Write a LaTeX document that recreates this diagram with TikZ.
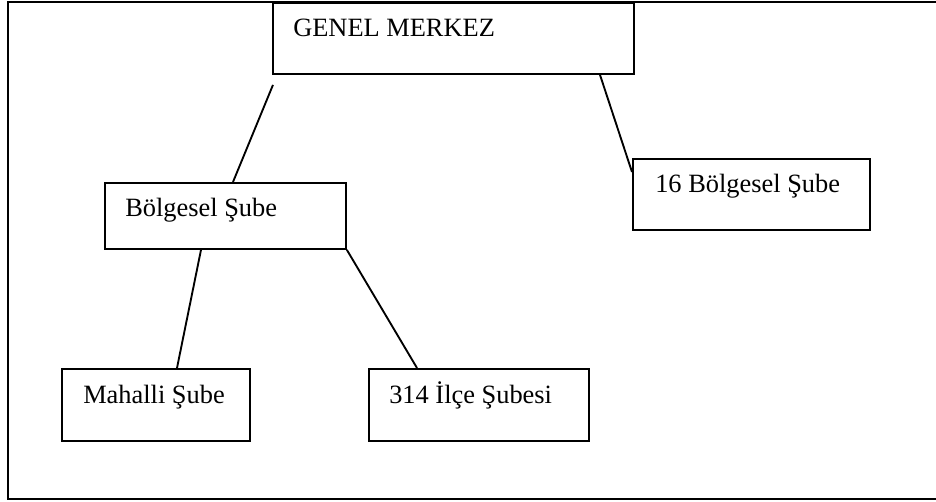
\documentclass[tikz,border=0pt]{standalone}
\usepackage{fontspec}
\setmainfont{Liberation Serif}
\usetikzlibrary{calc}
\begin{document}
\begin{tikzpicture}[x=0.75pt,y=-0.75pt,
  box/.style={draw=black,line width=1.4pt,rectangle,inner sep=0pt,anchor=north west},
  lbl/.style={anchor=base west,inner sep=0pt,font=\fontsize{19.8pt}{24pt}\selectfont},
  conn/.style={draw=black,line width=1.4pt}]
\useasboundingbox (0,0) rectangle (936,502);
\clip (0,0) rectangle (936,502);
\fill[white] (0,0) rectangle (936,502);
% outer frame (right side runs past the picture edge)
\draw[line width=1.4pt] (950,2) -- (8,2) -- (8,499) -- (950,499);
% boxes
\node[box,minimum width=361*0.75pt,minimum height=71*0.75pt] (gm) at (272,2) {};
\node[box,minimum width=237*0.75pt,minimum height=71*0.75pt] (bs16) at (632,158) {};
\node[box,minimum width=241*0.75pt,minimum height=66*0.75pt] (bs) at (104,182) {};
\node[box,minimum width=188*0.75pt,minimum height=72*0.75pt] (ms) at (61,368) {};
\node[box,minimum width=220*0.75pt,minimum height=72*0.75pt] (is) at (368,368) {};
% texts
\node[lbl] (tgm) at (293,37) {GENEL MERKEZ};
\node[lbl] (tbs16) at (655,193) {16 Bölgesel Şube};
\node[lbl] (tbs) at (125,217) {Bölgesel Şube};
\node[lbl] (tms) at (83,403) {Mahalli Şube};
\node[lbl] (tis) at (389,404) {314 İlçe Şubesi};
% connector end points
\coordinate (c1a) at ($(gm.south west)+(1,10)$);
\coordinate (c1b) at ($(bs.north west)+(129,0)$);
\coordinate (c2a) at ($(gm.south west)+(328,0)$);
\coordinate (c2b) at ($(bs16.north west)+(0,14)$);
\coordinate (c3a) at ($(bs.south west)+(97,0)$);
\coordinate (c3b) at ($(ms.north west)+(116,0)$);
\coordinate (c4a) at (bs.south east);
\coordinate (c4b) at ($(is.north west)+(49,0)$);
\draw[conn] (c1a) -- (c1b);
\draw[conn] (c2a) -- (c2b);
\draw[conn] (c3a) -- (c3b);
\draw[conn] (c4a) -- (c4b);
\end{tikzpicture}
\end{document}
